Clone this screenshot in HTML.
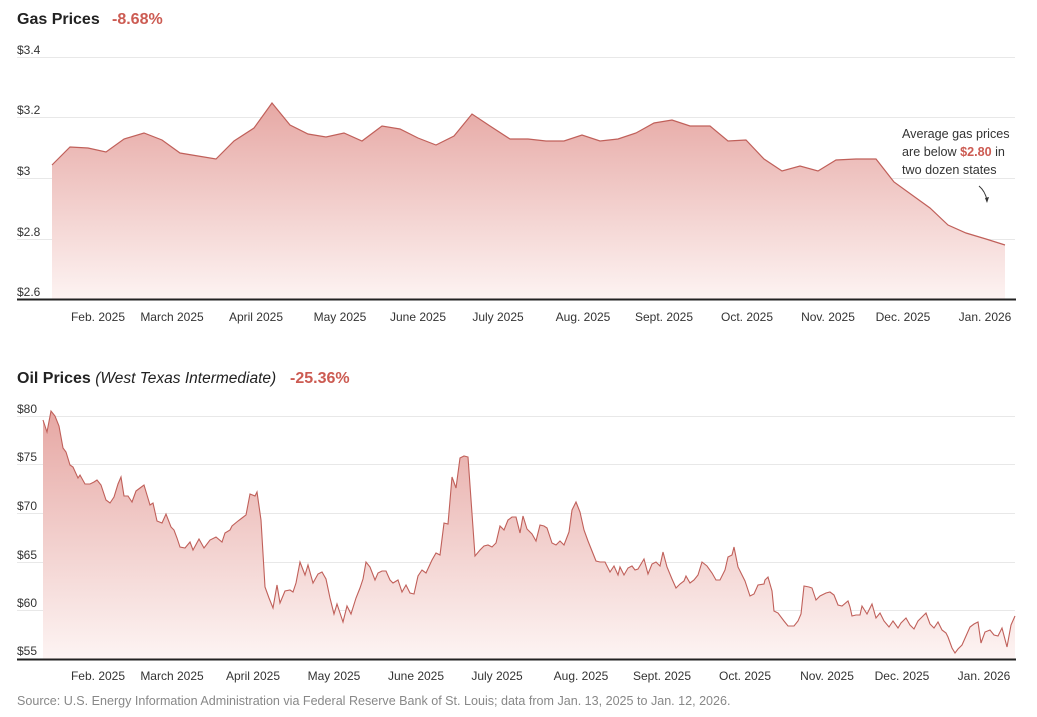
<!DOCTYPE html>
<html><head><meta charset="utf-8"><style>
body{margin:0;background:#fff;width:1037px;height:717px;overflow:hidden}
svg{display:block;font-family:"Liberation Sans",sans-serif}
</style></head><body>
<svg width="1037" height="717" viewBox="0 0 1037 717" xmlns="http://www.w3.org/2000/svg">
<defs>
<linearGradient id="g1" x1="0" y1="100" x2="0" y2="299" gradientUnits="userSpaceOnUse">
<stop offset="0" stop-color="#e6a7a3"/><stop offset="1" stop-color="#fdf3f2"/></linearGradient>
<linearGradient id="g2" x1="0" y1="410" x2="0" y2="659" gradientUnits="userSpaceOnUse">
<stop offset="0" stop-color="#e6a7a3"/><stop offset="1" stop-color="#fdf4f3"/></linearGradient>
</defs>
<!-- Gas -->
<text x="17" y="24" font-size="16" font-weight="bold" fill="#222">Gas Prices</text>
<text x="112" y="24" font-size="16" font-weight="bold" fill="#cc5b52">-8.68%</text>
<g stroke="#e8e8e8" stroke-width="1">
<line x1="17" y1="57.5" x2="1015" y2="57.5"/><line x1="17" y1="117.5" x2="1015" y2="117.5"/>
<line x1="17" y1="178.5" x2="1015" y2="178.5"/><line x1="17" y1="239.5" x2="1015" y2="239.5"/>
</g>
<g font-size="12" fill="#333">
<text x="17" y="54">$3.4</text><text x="17" y="114">$3.2</text><text x="17" y="175">$3</text><text x="17" y="236">$2.8</text><text x="17" y="296">$2.6</text>
</g>
<path fill="url(#g1)" stroke="none" d="M52,299 L52,165 70,147 88,148 106,152 124,139 144,133 162,140 180,153 198,156 216,159 234,141 254,128 272,103 290,125 308,134 326,137 344,133 362,141 382,126 400,129 418,138 436,145 454,136 472,114 490,126 510,139 528,139 546,141 564,141 582,135 600,141 618,139 636,133 654,123 672,120 690,126 710,126 728,141 746,140 764,159 782,171 800,166 818,171 836,160 856,159 876,159 894,182 912,195 930,208 948,225 966,233 986,239 1005,245 L1005,299 Z"/>
<polyline fill="none" stroke="#c0605a" stroke-width="1.2" points="52,165 70,147 88,148 106,152 124,139 144,133 162,140 180,153 198,156 216,159 234,141 254,128 272,103 290,125 308,134 326,137 344,133 362,141 382,126 400,129 418,138 436,145 454,136 472,114 490,126 510,139 528,139 546,141 564,141 582,135 600,141 618,139 636,133 654,123 672,120 690,126 710,126 728,141 746,140 764,159 782,171 800,166 818,171 836,160 856,159 876,159 894,182 912,195 930,208 948,225 966,233 986,239 1005,245"/>
<line x1="17" y1="299.5" x2="1016" y2="299.5" stroke="#222" stroke-width="2"/>
<rect x="898" y="124" width="116" height="54" fill="#fff"/>
<g font-size="12.6" fill="#333">
<text x="902" y="138">Average gas prices</text>
<text x="902" y="156">are below <tspan fill="#cc5b52" font-weight="bold">$2.80</tspan> in</text>
<text x="902" y="174">two dozen states</text>
</g>
<path d="M979,186 Q985,191 987,200" fill="none" stroke="#333" stroke-width="1"/>
<path d="M985,198 L987,203 L989,197 Z" fill="#333"/>
<g font-size="12" fill="#333" text-anchor="middle">
<text x="98" y="321">Feb. 2025</text><text x="172" y="321">March 2025</text><text x="256" y="321">April 2025</text>
<text x="340" y="321">May 2025</text><text x="418" y="321">June 2025</text><text x="498" y="321">July 2025</text>
<text x="583" y="321">Aug. 2025</text><text x="664" y="321">Sept. 2025</text><text x="747" y="321">Oct. 2025</text>
<text x="828" y="321">Nov. 2025</text><text x="903" y="321">Dec. 2025</text><text x="985" y="321">Jan. 2026</text>
</g>
<!-- Oil -->
<text x="17" y="383" font-size="16" font-weight="bold" fill="#222">Oil Prices <tspan font-weight="normal" font-style="italic" font-size="15.5">(West Texas Intermediate)</tspan></text>
<text x="290" y="383" font-size="16" font-weight="bold" fill="#cc5b52">-25.36%</text>
<g stroke="#e8e8e8" stroke-width="1">
<line x1="17" y1="416.5" x2="1015" y2="416.5"/><line x1="17" y1="464.5" x2="1015" y2="464.5"/>
<line x1="17" y1="513.5" x2="1015" y2="513.5"/><line x1="17" y1="562.5" x2="1015" y2="562.5"/>
<line x1="17" y1="610.5" x2="1015" y2="610.5"/>
</g>
<g font-size="12" fill="#333">
<text x="17" y="413">$80</text><text x="17" y="461">$75</text><text x="17" y="510">$70</text><text x="17" y="559">$65</text><text x="17" y="607">$60</text><text x="17" y="655">$55</text>
</g>
<path fill="url(#g2)" d="M43,659 L43,420 47,432 51,411 55,416 59,426 63,448 66,452 70,465 73,467 78,478 80,475 85,484 90,484 94,482 97,480 101,485 106,500 110,503 114,497 118,484 121,477 124,496 128,496 132,502 136,491 140,488 144,485 150,505 153,503 157,521 162,523 166,514 171,527 174,530 177,538 180,547 185,548 190,542 193,550 199,539 204,548 210,540 216,537 222,542 225,533 230,530 232,526 238,521 242,518 246,515 250,494 255,496 257,492 261,520 265,587 269,598 273,608 277,585 280,603 285,591 290,590 293,592 296,583 300,562 305,575 308,565 313,583 318,574 322,572 326,579 330,598 334,614 337,604 340,613 343,622 347,606 351,614 356,598 360,588 363,579 366,562 370,567 375,580 378,573 382,571 386,571 390,580 393,583 398,580 402,592 406,585 410,593 414,594 418,576 422,570 426,573 432,560 436,553 440,555 444,523 448,524 452,477 456,488 460,458 464,456 468,457 475,556 480,550 484,546 488,545 492,547 496,543 500,526 504,530 508,520 512,517 516,517 520,533 523,516 527,529 532,534 536,541 540,525 544,526 547,528 552,543 556,545 560,541 564,545 569,532 572,510 576,502 580,512 584,530 588,541 592,551 596,561 600,562 605,562 610,572 614,566 618,575 620,567 624,575 628,568 632,566 635,570 638,569 644,559 648,574 652,564 656,562 660,566 663,552 667,567 672,579 676,588 680,584 684,581 686,576 690,583 694,580 698,575 702,562 707,566 712,573 716,580 720,580 725,570 728,557 732,555 734,547 738,567 745,581 750,596 754,594 758,585 764,584 765,580 768,577 772,591 774,611 778,613 784,621 788,626 794,626 798,621 801,614 804,586 809,587 812,588 816,600 820,596 826,593 830,592 834,595 838,605 842,606 848,601 850,607 852,616 856,615 860,615 862,606 867,614 870,608 872,604 876,618 880,613 884,621 889,627 893,621 898,628 901,623 906,618 910,625 914,629 918,621 922,617 926,613 930,624 934,628 938,622 942,630 946,633 948,637 952,648 955,653 958,649 962,645 966,636 970,627 974,624 978,622 981,643 985,632 990,630 994,635 998,636 1002,628 1007,647 1011,625 1015,616 L1015,659 Z"/>
<polyline fill="none" stroke="#c0605a" stroke-width="1.1" points="43,420 47,432 51,411 55,416 59,426 63,448 66,452 70,465 73,467 78,478 80,475 85,484 90,484 94,482 97,480 101,485 106,500 110,503 114,497 118,484 121,477 124,496 128,496 132,502 136,491 140,488 144,485 150,505 153,503 157,521 162,523 166,514 171,527 174,530 177,538 180,547 185,548 190,542 193,550 199,539 204,548 210,540 216,537 222,542 225,533 230,530 232,526 238,521 242,518 246,515 250,494 255,496 257,492 261,520 265,587 269,598 273,608 277,585 280,603 285,591 290,590 293,592 296,583 300,562 305,575 308,565 313,583 318,574 322,572 326,579 330,598 334,614 337,604 340,613 343,622 347,606 351,614 356,598 360,588 363,579 366,562 370,567 375,580 378,573 382,571 386,571 390,580 393,583 398,580 402,592 406,585 410,593 414,594 418,576 422,570 426,573 432,560 436,553 440,555 444,523 448,524 452,477 456,488 460,458 464,456 468,457 475,556 480,550 484,546 488,545 492,547 496,543 500,526 504,530 508,520 512,517 516,517 520,533 523,516 527,529 532,534 536,541 540,525 544,526 547,528 552,543 556,545 560,541 564,545 569,532 572,510 576,502 580,512 584,530 588,541 592,551 596,561 600,562 605,562 610,572 614,566 618,575 620,567 624,575 628,568 632,566 635,570 638,569 644,559 648,574 652,564 656,562 660,566 663,552 667,567 672,579 676,588 680,584 684,581 686,576 690,583 694,580 698,575 702,562 707,566 712,573 716,580 720,580 725,570 728,557 732,555 734,547 738,567 745,581 750,596 754,594 758,585 764,584 765,580 768,577 772,591 774,611 778,613 784,621 788,626 794,626 798,621 801,614 804,586 809,587 812,588 816,600 820,596 826,593 830,592 834,595 838,605 842,606 848,601 850,607 852,616 856,615 860,615 862,606 867,614 870,608 872,604 876,618 880,613 884,621 889,627 893,621 898,628 901,623 906,618 910,625 914,629 918,621 922,617 926,613 930,624 934,628 938,622 942,630 946,633 948,637 952,648 955,653 958,649 962,645 966,636 970,627 974,624 978,622 981,643 985,632 990,630 994,635 998,636 1002,628 1007,647 1011,625 1015,616"/>
<line x1="17" y1="659.5" x2="1016" y2="659.5" stroke="#222" stroke-width="2"/>
<g font-size="12" fill="#333" text-anchor="middle">
<text x="98" y="680">Feb. 2025</text><text x="172" y="680">March 2025</text><text x="253" y="680">April 2025</text>
<text x="334" y="680">May 2025</text><text x="416" y="680">June 2025</text><text x="497" y="680">July 2025</text>
<text x="581" y="680">Aug. 2025</text><text x="662" y="680">Sept. 2025</text><text x="745" y="680">Oct. 2025</text>
<text x="827" y="680">Nov. 2025</text><text x="902" y="680">Dec. 2025</text><text x="984" y="680">Jan. 2026</text>
</g>
<text x="17" y="705" font-size="12.55" fill="#888">Source: U.S. Energy Information Administration via Federal Reserve Bank of St. Louis; data from Jan. 13, 2025 to Jan. 12, 2026.</text>
</svg>
</body></html>
